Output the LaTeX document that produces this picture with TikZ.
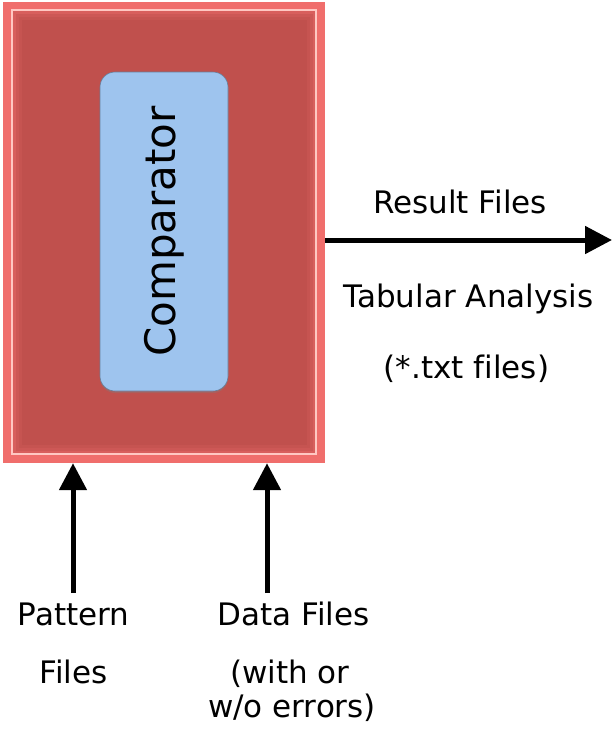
\documentclass[tikz,border=0pt]{standalone}
\usepackage{fontspec}
\setmainfont[Ligatures=NoCommon]{DejaVu Sans}
\usetikzlibrary{arrows.meta,shadows}
\definecolor{redmain}{RGB}{192,80,77}
\definecolor{redband}{RGB}{240,110,108}
\definecolor{redline}{RGB}{255,200,195}
\definecolor{bluebox}{RGB}{158,196,238}
\begin{document}
\begin{tikzpicture}[x=1pt,y=-1pt,
  lbl/.style={font=\fontsize{31}{31}\selectfont, anchor=base, inner sep=0pt},
  flow/.style={line width=5pt, -{Triangle[length=27pt,width=27pt]}},
  panel/.style={inner sep=0pt, draw=none},
]
\useasboundingbox (0,0) rectangle (615,729);
% outer red frame
\node[panel, fill=redband, minimum width=322pt, minimum height=461pt] (outer) at (164,232.5) {};
\node[panel, fill=redband!50!redmain, draw=redline, line width=1.5pt, minimum width=304pt, minimum height=444pt] (inner) at (164,232) {};
\node[panel, fill=redband!28!redmain, minimum width=297pt, minimum height=437pt] (bevelA) at (164,232) {};
\node[panel, fill=redband!12!redmain, minimum width=291pt, minimum height=431pt] (bevelB) at (164,232) {};
\node[panel, fill=redmain, minimum width=285pt, minimum height=425pt] (core) at (164,232) {};
% comparator
\node[draw=bluebox!65!black, line width=0.6pt, fill=bluebox, rounded corners=15pt,
      minimum width=128pt, minimum height=319pt, inner sep=0pt,
      drop shadow={shadow xshift=0pt, shadow yshift=-2pt, opacity=0.35}] (comp) at (164,231.5) {};
\node[rotate=90, font=\fontsize{42}{42}\selectfont, inner sep=0pt] (comptext) at (comp.center) {Comparator};
% arrows
\coordinate (resEnd) at (612,240);
\coordinate (patStart) at (73,593);
\coordinate (dataStart) at (267,593);
\draw[flow] (outer.east |- resEnd) -- (resEnd);
\draw[flow] (patStart) -- (patStart |- outer.south);
\draw[flow] (dataStart) -- (dataStart |- outer.south);
% labels
\node[lbl] (res) at (460,213) {Result Files};
\node[lbl] (tab) at (468.5,307) {Tabular Analysis};
\node[lbl] (txt) at (466.5,378) {(*.txt files)};
\node[lbl] (pat1) at (73.5,625) {Pattern};
\node[lbl] (pat2) at (73.5,683) {Files};
\node[lbl] (dat1) at (293.5,625) {Data Files};
\node[lbl] (dat2) at (290,683) {(with or};
\node[lbl] (dat3) at (292,717) {w/o errors)};
\end{tikzpicture}
\end{document}
